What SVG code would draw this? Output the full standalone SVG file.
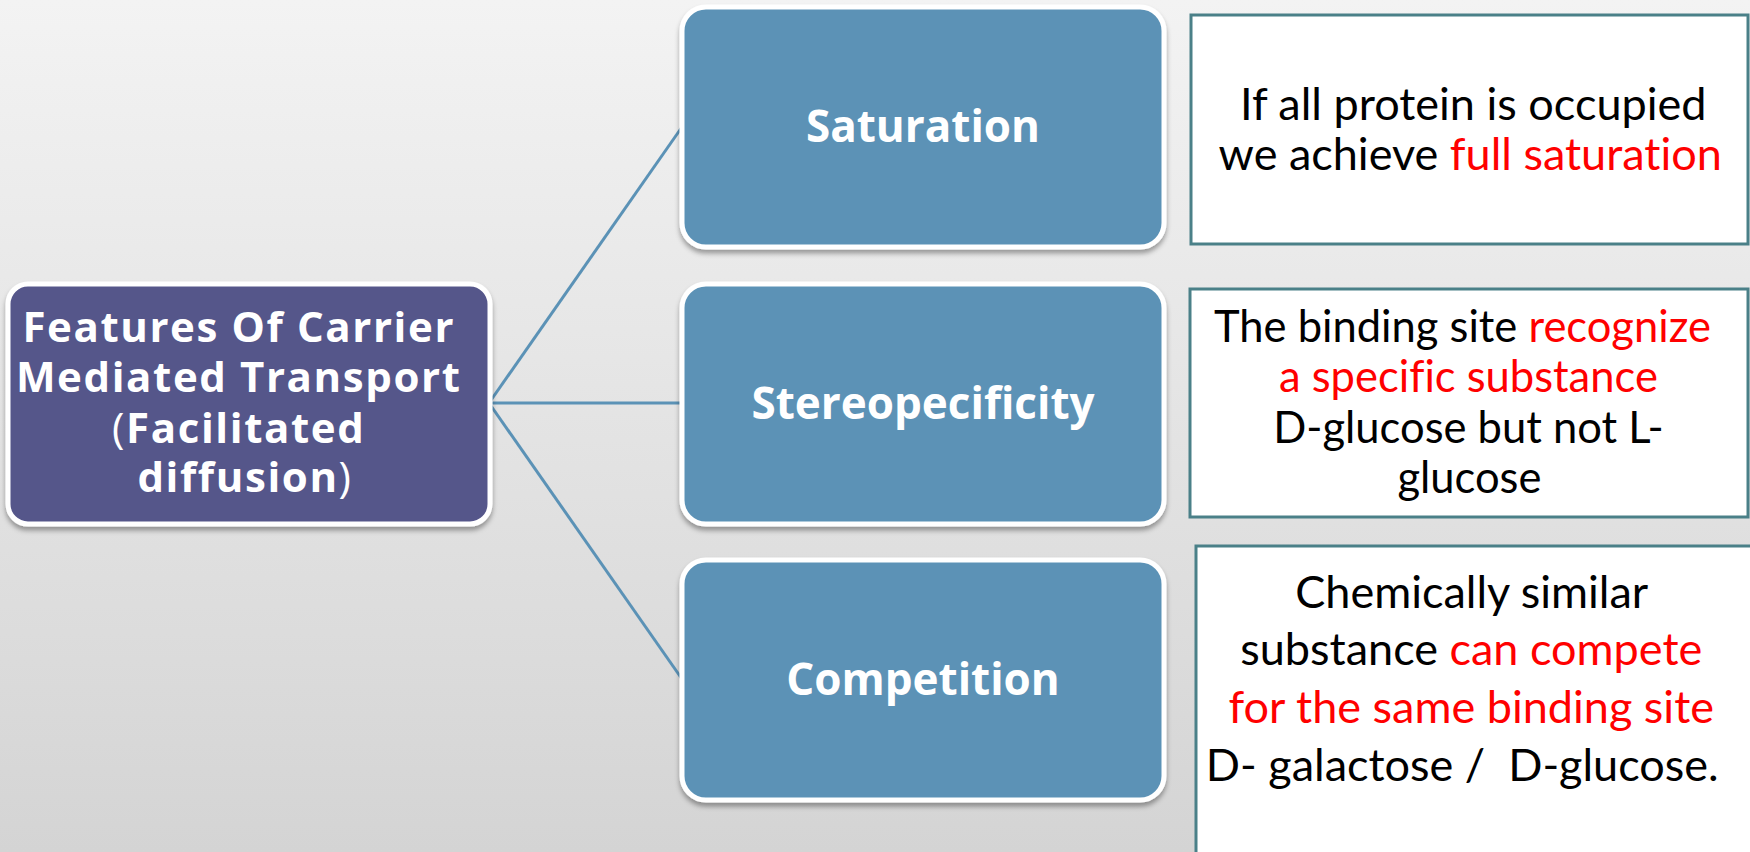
<svg xmlns="http://www.w3.org/2000/svg" width="1750" height="852" viewBox="0 0 1750 852">
<defs>
<linearGradient id="bg" x1="0" y1="0" x2="0" y2="1">
<stop offset="0" stop-color="#F3F3F3"/>
<stop offset="1" stop-color="#D4D4D4"/>
</linearGradient>
<filter id="sh" x="-5%" y="-5%" width="110%" height="115%">
<feDropShadow dx="0" dy="4" stdDeviation="2.5" flood-color="#000" flood-opacity="0.35"/>
</filter>
<style>
text{font-variant-ligatures:none;font-feature-settings:"liga" 0,"clig" 0}
.root{fill:#55568A;stroke:#FFFFFF;stroke-width:5}
.feat{fill:#5B92B6;stroke:#FFFFFF;stroke-width:5}
.desc{fill:#FFFFFF;stroke:#4A8088;stroke-width:3}
.conn{stroke:#5B92B6;stroke-width:3;fill:none}
.bt{font-family:"Open Sans","Liberation Sans",sans-serif;font-weight:bold;fill:#FFFFFF;text-anchor:middle}
.dt{font-family:Lato,"Liberation Sans",sans-serif;fill:#000000;text-anchor:middle;white-space:pre}
.red{fill:#FF0000}
.rg{font-weight:normal}
</style>
</defs>
<rect x="0" y="0" width="1750" height="852" fill="url(#bg)"/>
<g id="connectors">
<line class="conn" x1="489" y1="403" x2="682" y2="127"/>
<line class="conn" x1="489" y1="403" x2="682" y2="403"/>
<line class="conn" x1="489" y1="403" x2="682" y2="679"/>
</g>
<g id="root">
<rect class="root" x="8" y="284" width="482" height="240" rx="20" filter="url(#sh)"/>
<text class="bt" font-size="42" letter-spacing="1.6">
<tspan x="245" y="342">Features Of Carrier</tspan>
<tspan x="245" y="392">Mediated Transport</tspan>
<tspan x="245" y="443"><tspan class="rg">(</tspan>Facilitated</tspan>
<tspan x="245" y="492">diffusion<tspan class="rg">)</tspan></tspan>
</text>
</g>
<g id="saturation">
<rect class="feat" x="682" y="7" width="482" height="240" rx="24" filter="url(#sh)"/>
<text class="bt" font-size="44" x="923" y="142">Saturation</text>
</g>
<g id="stereo">
<rect class="feat" x="682" y="284" width="482" height="240" rx="24" filter="url(#sh)"/>
<text class="bt" font-size="44" x="923" y="419">Stereopecificity</text>
</g>
<g id="competition">
<rect class="feat" x="682" y="560" width="482" height="240" rx="24" filter="url(#sh)"/>
<text class="bt" font-size="44" x="923" y="695">Competition</text>
</g>
<g id="desc-saturation">
<rect class="desc" x="1191" y="15" width="557" height="229"/>
<text class="dt" font-size="45">
<tspan x="1479" y="120">If all protein is occupied</tspan>
<tspan x="1476" y="170">we achieve <tspan class="red">full saturation</tspan></tspan>
</text>
</g>
<g id="desc-stereo">
<rect class="desc" x="1190" y="289" width="558" height="228"/>
<text class="dt" font-size="43.5">
<tspan x="1468" y="342">The binding site <tspan class="red">recognize</tspan></tspan>
<tspan class="red" x="1474" y="392">a specific substance</tspan>
<tspan x="1474" y="443">D-glucose but not L-</tspan>
<tspan x="1475" y="493">glucose</tspan>
</text>
</g>
<g id="desc-competition">
<rect class="desc" x="1196" y="546" width="556" height="320"/>
<text class="dt" font-size="45">
<tspan x="1477" y="608">Chemically similar</tspan>
<tspan x="1477" y="665">substance <tspan class="red">can compete</tspan></tspan>
<tspan class="red" x="1477" y="723">for the same binding site</tspan>
<tspan x="1468" y="781">D- galactose /  D-glucose.</tspan>
</text>
</g>
</svg>
